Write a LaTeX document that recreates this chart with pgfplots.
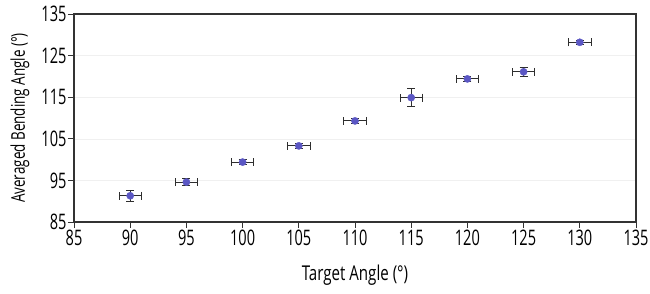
\documentclass[border=0pt]{standalone}
\usepackage{pgfplots}
\pgfplotsset{compat=1.18}
\usepackage{graphicx}
\usepackage{fontspec}
\setmainfont{Open Sans}
\definecolor{mk}{HTML}{5B57C4}
\definecolor{eb}{HTML}{2E2E2E}
\newcommand{\nar}[1]{\scalebox{0.68}[1]{#1}}
\begin{document}
\begin{tikzpicture}
\useasboundingbox (-74bp,-72bp) rectangle (576bp,222bp);
\begin{axis}[
  scale only axis,
  width=562bp, height=208bp,
  xmin=85, xmax=135, ymin=85, ymax=135,
  xtick={85,90,...,135}, ytick={85,95,...,135},
  tick pos=left, tick align=outside,
  major tick length=6bp,
  axis line style={draw=black!80, line width=1.1pt},
  every tick/.style={black!80, line width=1pt},
  ymajorgrids, grid style={black!6, line width=0.6pt},
  tick label style={font=\fontsize{21.5}{24}\selectfont},
  xticklabel={\nar{\pgfmathprintnumber{\tick}}},
  yticklabel={\nar{\pgfmathprintnumber{\tick}}},
  /pgf/number format/assume math mode=true,
  yticklabel style={xshift=2bp},
  xticklabel style={yshift=1.5bp},
  xlabel={\fontsize{20.5}{23}\selectfont\scalebox{0.74}[1]{Target Angle (°)}},
  ylabel={\rotatebox{90}{\fontsize{19}{23}\selectfont\scalebox{0.71}[1]{Averaged Bending Angle (°)}}},
  xlabel style={at={(axis description cs:0.5,0)}, anchor=center, yshift=-53bp},
  ylabel style={at={(axis description cs:0,0.5)}, anchor=center, rotate=-90, xshift=-54bp},
]
\addplot[only marks, mark=*, mark size=3.6bp, mark options={fill=mk, draw=mk},
  error bars/.cd, x dir=both, x explicit, y dir=both, y explicit,
  error bar style={eb, line width=0.9pt},
  error mark options={rotate=90, mark size=4bp, line width=0.9pt, eb}]
table[x=x, y=y, x error=ex, y error=ey] {
x   y     ex  ey
90  91.3  1.0 1.4
95  94.6  1.0 0.8
100 99.4  1.0 0.6
105 103.3 1.0 0.5
110 109.3 1.0 0.5
115 114.9 1.0 2.1
120 119.4 1.0 0.7
125 121.1 1.0 1.0
130 128.2 1.0 0.5
};
\end{axis}
\end{tikzpicture}
\end{document}
